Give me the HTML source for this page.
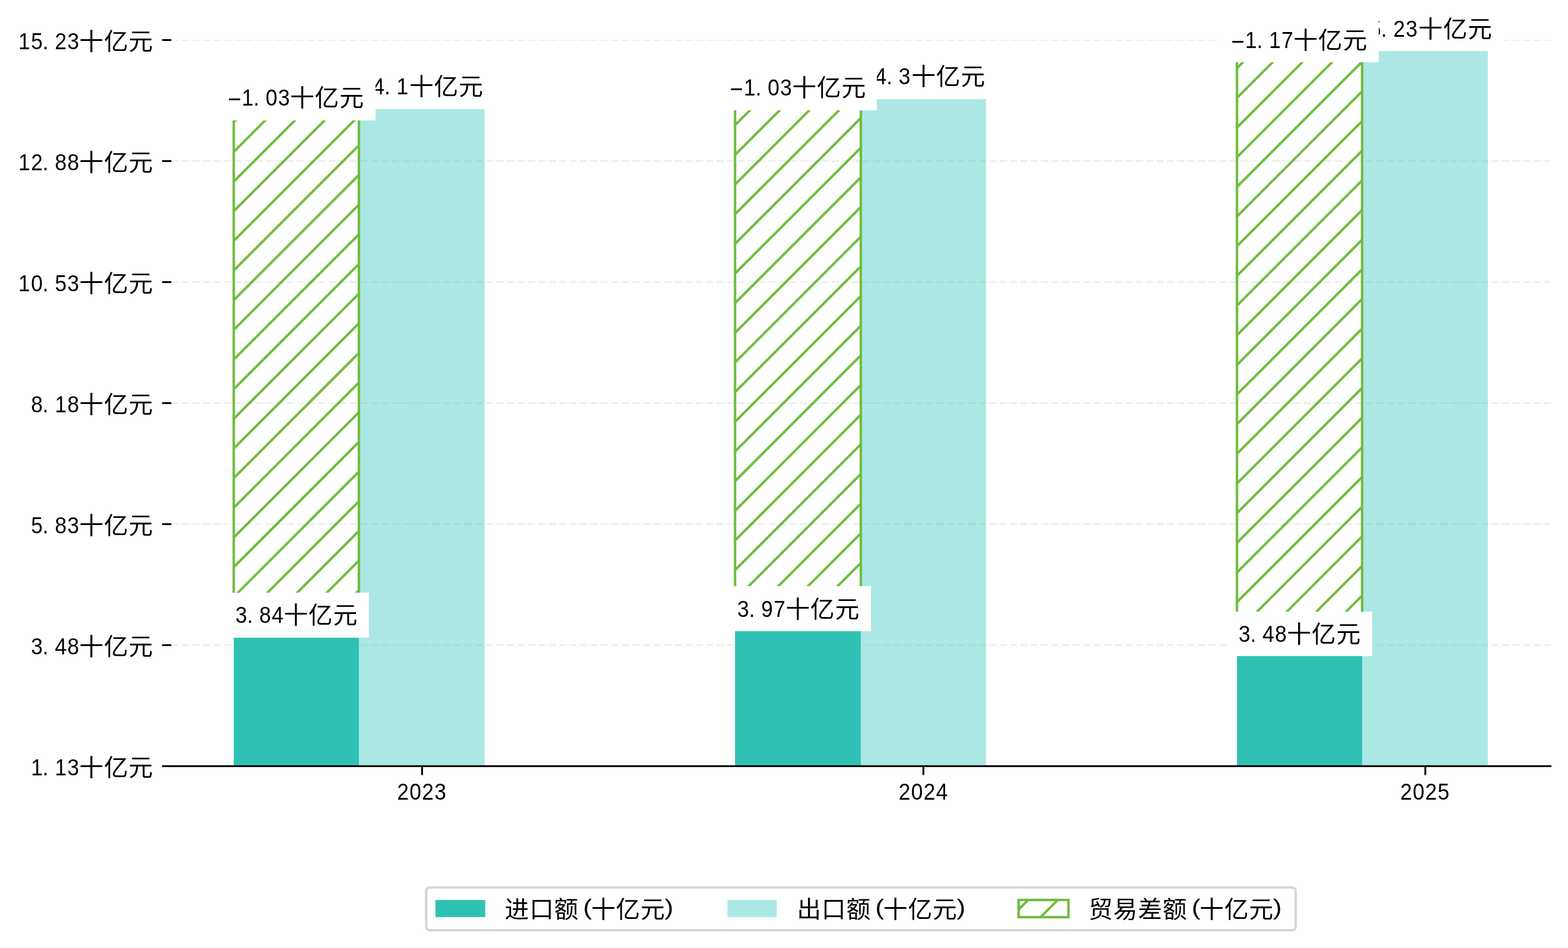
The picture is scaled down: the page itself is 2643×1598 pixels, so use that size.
<!DOCTYPE html>
<html lang="zh-CN"><head><meta charset="utf-8">
<style>
html,body{margin:0;padding:0;background:#fff;}
body{width:2643px;height:1598px;}
svg{display:block;}
text{font-family:"Liberation Sans", "Noto Sans CJK SC", sans-serif;fill:#000;text-anchor:middle;}
.d{font-size:39.0px;}
.c{font-size:39.7px;}
</style></head><body>
<svg width="2643" height="1598" viewBox="0 0 2643 1598">
<defs><clipPath id="h0"><rect x="394" y="203" width="211.0" height="796.0"/></clipPath><clipPath id="h1"><rect x="1239" y="186" width="212.0" height="802.0"/></clipPath><clipPath id="h2"><rect x="2085" y="105" width="211.0" height="926.0"/></clipPath><clipPath id="hl"><rect x="1717" y="1517" width="84.0" height="29.0"/></clipPath></defs>
<rect x="0" y="0" width="2643" height="1598" fill="#fff"/>
<rect x="605" y="184" width="211.9" height="1107.5" fill="#abe8e3"/>
<rect x="394" y="1075" width="211.0" height="216.5" fill="#2fc2b4"/>
<path d="M389.0 111.0L610.0 -110.0M389.0 161.0L610.0 -60.0M389.0 211.0L610.0 -10.0M389.0 261.0L610.0 40.0M389.0 311.0L610.0 90.0M389.0 361.0L610.0 140.0M389.0 411.0L610.0 190.0M389.0 461.0L610.0 240.0M389.0 511.0L610.0 290.0M389.0 561.0L610.0 340.0M389.0 611.0L610.0 390.0M389.0 661.0L610.0 440.0M389.0 711.0L610.0 490.0M389.0 761.0L610.0 540.0M389.0 811.0L610.0 590.0M389.0 861.0L610.0 640.0M389.0 911.0L610.0 690.0M389.0 961.0L610.0 740.0M389.0 1011.0L610.0 790.0M389.0 1061.0L610.0 840.0M389.0 1111.0L610.0 890.0M389.0 1161.0L610.0 940.0M389.0 1211.0L610.0 990.0M389.0 1261.0L610.0 1040.0M389.0 1311.0L610.0 1090.0" clip-path="url(#h0)" fill="none" stroke="#70bd3e" stroke-width="4.17"/>
<rect x="391.92" y="203" width="4.17" height="796.0" fill="#70bd3e"/>
<rect x="602.92" y="203" width="4.17" height="796.0" fill="#70bd3e"/>
<rect x="1451" y="167" width="210.9" height="1124.5" fill="#abe8e3"/>
<rect x="1239" y="1064" width="212.0" height="227.5" fill="#2fc2b4"/>
<path d="M1234.0 116.0L1456.0 -106.0M1234.0 166.0L1456.0 -56.0M1234.0 216.0L1456.0 -6.0M1234.0 266.0L1456.0 44.0M1234.0 316.0L1456.0 94.0M1234.0 366.0L1456.0 144.0M1234.0 416.0L1456.0 194.0M1234.0 466.0L1456.0 244.0M1234.0 516.0L1456.0 294.0M1234.0 566.0L1456.0 344.0M1234.0 616.0L1456.0 394.0M1234.0 666.0L1456.0 444.0M1234.0 716.0L1456.0 494.0M1234.0 766.0L1456.0 544.0M1234.0 816.0L1456.0 594.0M1234.0 866.0L1456.0 644.0M1234.0 916.0L1456.0 694.0M1234.0 966.0L1456.0 744.0M1234.0 1016.0L1456.0 794.0M1234.0 1066.0L1456.0 844.0M1234.0 1116.0L1456.0 894.0M1234.0 1166.0L1456.0 944.0M1234.0 1216.0L1456.0 994.0M1234.0 1266.0L1456.0 1044.0" clip-path="url(#h1)" fill="none" stroke="#70bd3e" stroke-width="4.17"/>
<rect x="1236.92" y="186" width="4.17" height="802.0" fill="#70bd3e"/>
<rect x="1448.92" y="186" width="4.17" height="802.0" fill="#70bd3e"/>
<rect x="2296" y="86" width="211.9" height="1205.5" fill="#abe8e3"/>
<rect x="2085" y="1106" width="211.0" height="185.5" fill="#2fc2b4"/>
<path d="M2080.0 20.0L2301.0 -201.0M2080.0 70.0L2301.0 -151.0M2080.0 120.0L2301.0 -101.0M2080.0 170.0L2301.0 -51.0M2080.0 220.0L2301.0 -1.0M2080.0 270.0L2301.0 49.0M2080.0 320.0L2301.0 99.0M2080.0 370.0L2301.0 149.0M2080.0 420.0L2301.0 199.0M2080.0 470.0L2301.0 249.0M2080.0 520.0L2301.0 299.0M2080.0 570.0L2301.0 349.0M2080.0 620.0L2301.0 399.0M2080.0 670.0L2301.0 449.0M2080.0 720.0L2301.0 499.0M2080.0 770.0L2301.0 549.0M2080.0 820.0L2301.0 599.0M2080.0 870.0L2301.0 649.0M2080.0 920.0L2301.0 699.0M2080.0 970.0L2301.0 749.0M2080.0 1020.0L2301.0 799.0M2080.0 1070.0L2301.0 849.0M2080.0 1120.0L2301.0 899.0M2080.0 1170.0L2301.0 949.0M2080.0 1220.0L2301.0 999.0M2080.0 1270.0L2301.0 1049.0M2080.0 1320.0L2301.0 1099.0" clip-path="url(#h2)" fill="none" stroke="#70bd3e" stroke-width="4.17"/>
<rect x="2082.92" y="105" width="4.17" height="926.0" fill="#70bd3e"/>
<rect x="2293.92" y="105" width="4.17" height="926.0" fill="#70bd3e"/>
<line x1="289.5" y1="68" x2="2613" y2="68" stroke-width="2" stroke="#808080" stroke-opacity="0.125" stroke-dasharray="12.3333 5.3333" stroke-dashoffset="0.83"/>
<line x1="289.5" y1="271.5" x2="2613" y2="271.5" stroke-width="3.1" stroke="#808080" stroke-opacity="0.125" stroke-dasharray="12.3333 5.3333" stroke-dashoffset="0.83"/>
<line x1="289.5" y1="475.5" x2="2613" y2="475.5" stroke-width="3.1" stroke="#808080" stroke-opacity="0.125" stroke-dasharray="12.3333 5.3333" stroke-dashoffset="0.83"/>
<line x1="289.5" y1="679.5" x2="2613" y2="679.5" stroke-width="3.1" stroke="#808080" stroke-opacity="0.125" stroke-dasharray="12.3333 5.3333" stroke-dashoffset="0.83"/>
<line x1="289.5" y1="883.5" x2="2613" y2="883.5" stroke-width="3.1" stroke="#808080" stroke-opacity="0.125" stroke-dasharray="12.3333 5.3333" stroke-dashoffset="0.83"/>
<line x1="289.5" y1="1087.5" x2="2613" y2="1087.5" stroke-width="3.1" stroke="#808080" stroke-opacity="0.125" stroke-dasharray="12.3333 5.3333" stroke-dashoffset="0.83"/>
<rect x="377.0" y="999" width="245.0" height="76" fill="#fff"/>
<g><text class="d" transform="matrix(0.912 0 0 1 0 1049.75)" x="445.85 462.08 490.04 513.06" y="0">3.84</text><text class="c" transform="matrix(1.03 0 0 1 0 1051.15)" x="484.10 524.51 564.93" y="0">十亿元</text></g>
<rect x="588.5" y="108" width="245.0" height="76" fill="#fff"/>
<g><text class="d" transform="matrix(0.912 0 0 1 0 158.75)" x="676.66 699.68 715.91 743.87" y="0">14.1</text><text class="c" transform="matrix(1.03 0 0 1 0 160.15)" x="689.68 730.10 770.51" y="0">十亿元</text></g>
<rect x="366.0" y="127" width="267.0" height="76" fill="#fff"/>
<g><text class="d" transform="matrix(1.95 0 0 1 395.31 177.75)" x="0" y="0">-</text><text class="d" transform="matrix(0.912 0 0 1 0 177.75)" x="457.69 473.92 501.88 524.90" y="0">1.03</text><text class="c" transform="matrix(1.03 0 0 1 0 179.15)" x="494.59 535.00 575.41" y="0">十亿元</text></g>
<rect x="1223.0" y="988" width="245.0" height="76" fill="#fff"/>
<g><text class="d" transform="matrix(0.912 0 0 1 0 1039.75)" x="1373.48 1389.71 1417.67 1440.69" y="0">3.97</text><text class="c" transform="matrix(1.03 0 0 1 0 1041.15)" x="1305.46 1345.87 1386.29" y="0">十亿元</text></g>
<rect x="1434.0" y="91" width="245.0" height="76" fill="#fff"/>
<g><text class="d" transform="matrix(0.912 0 0 1 0 141.75)" x="1604.51 1627.54 1643.76 1671.72" y="0">14.3</text><text class="c" transform="matrix(1.03 0 0 1 0 143.15)" x="1511.24 1551.65 1592.06" y="0">十亿元</text></g>
<rect x="1211.0" y="110" width="267.0" height="76" fill="#fff"/>
<g><text class="d" transform="matrix(1.95 0 0 1 1241.51 160.75)" x="0" y="0">-</text><text class="d" transform="matrix(0.912 0 0 1 0 160.75)" x="1385.54 1401.77 1429.73 1452.75" y="0">1.03</text><text class="c" transform="matrix(1.03 0 0 1 0 162.15)" x="1316.14 1356.55 1396.97" y="0">十亿元</text></g>
<rect x="2068.0" y="1031" width="245.0" height="75" fill="#fff"/>
<g><text class="d" transform="matrix(0.912 0 0 1 0 1081.75)" x="2300.01 2316.24 2344.20 2367.23" y="0">3.48</text><text class="c" transform="matrix(1.03 0 0 1 0 1083.15)" x="2125.85 2166.26 2206.67" y="0">十亿元</text></g>
<rect x="2268.4" y="10" width="267.0" height="76" fill="#fff"/>
<g><text class="d" transform="matrix(0.912 0 0 1 0 61.75)" x="2518.65 2541.68 2557.91 2585.87 2608.90" y="0">15.23</text><text class="c" transform="matrix(1.03 0 0 1 0 63.15)" x="2341.04 2381.46 2421.87" y="0">十亿元</text></g>
<rect x="2057.0" y="29" width="267.0" height="76" fill="#fff"/>
<g><text class="d" transform="matrix(1.95 0 0 1 2086.51 80.75)" x="0" y="0">-</text><text class="d" transform="matrix(0.912 0 0 1 0 80.75)" x="2312.08 2328.30 2356.26 2379.29" y="0">1.17</text><text class="c" transform="matrix(1.03 0 0 1 0 82.15)" x="2136.53 2176.94 2217.35" y="0">十亿元</text></g>
<rect x="286.9" y="1289.95" width="2328.1" height="3.1" fill="#000"/>
<rect x="273.3" y="65.95" width="15.5" height="3.1" fill="#000"/>
<rect x="273.3" y="269.95" width="15.5" height="3.1" fill="#000"/>
<rect x="273.3" y="473.95" width="15.5" height="3.1" fill="#000"/>
<rect x="273.3" y="677.95" width="15.5" height="3.1" fill="#000"/>
<rect x="273.3" y="881.95" width="15.5" height="3.1" fill="#000"/>
<rect x="273.3" y="1085.95" width="15.5" height="3.1" fill="#000"/>
<rect x="273.3" y="1289.95" width="15.5" height="3.1" fill="#000"/>
<rect x="709.95" y="1291.5" width="3.1" height="15" fill="#000"/>
<rect x="1554.95" y="1291.5" width="3.1" height="15" fill="#000"/>
<rect x="2400.95" y="1291.5" width="3.1" height="15" fill="#000"/>
<g><text class="d" transform="matrix(0.912 0 0 1 0 82.90)" x="44.98 68.01 84.24 112.20 135.22" y="0">15.23</text><text class="c" transform="matrix(1.03 0 0 1 0 84.30)" x="149.55 189.96 230.38" y="0">十亿元</text></g>
<g><text class="d" transform="matrix(0.912 0 0 1 0 286.90)" x="44.98 68.01 84.24 112.20 135.22" y="0">12.88</text><text class="c" transform="matrix(1.03 0 0 1 0 288.30)" x="149.55 189.96 230.38" y="0">十亿元</text></g>
<g><text class="d" transform="matrix(0.912 0 0 1 0 490.90)" x="44.98 68.01 84.24 112.20 135.22" y="0">10.53</text><text class="c" transform="matrix(1.03 0 0 1 0 492.30)" x="149.55 189.96 230.38" y="0">十亿元</text></g>
<g><text class="d" transform="matrix(0.912 0 0 1 0 694.90)" x="68.01 84.24 112.20 135.22" y="0">8.18</text><text class="c" transform="matrix(1.03 0 0 1 0 696.30)" x="149.55 189.96 230.38" y="0">十亿元</text></g>
<g><text class="d" transform="matrix(0.912 0 0 1 0 898.90)" x="68.01 84.24 112.20 135.22" y="0">5.83</text><text class="c" transform="matrix(1.03 0 0 1 0 900.30)" x="149.55 189.96 230.38" y="0">十亿元</text></g>
<g><text class="d" transform="matrix(0.912 0 0 1 0 1102.90)" x="68.01 84.24 112.20 135.22" y="0">3.48</text><text class="c" transform="matrix(1.03 0 0 1 0 1104.30)" x="149.55 189.96 230.38" y="0">十亿元</text></g>
<g><text class="d" transform="matrix(0.912 0 0 1 0 1306.90)" x="68.01 84.24 112.20 135.22" y="0">1.13</text><text class="c" transform="matrix(1.03 0 0 1 0 1308.30)" x="149.55 189.96 230.38" y="0">十亿元</text></g>
<g><text class="d" transform="matrix(0.912 0 0 1 0 1348.10)" x="744.74 767.76 790.79 813.82" y="0">2023</text></g>
<g><text class="d" transform="matrix(0.912 0 0 1 0 1348.10)" x="1671.82 1694.85 1717.87 1740.90" y="0">2024</text></g>
<g><text class="d" transform="matrix(0.912 0 0 1 0 1348.10)" x="2598.90 2621.93 2644.96 2667.98" y="0">2025</text></g>
<rect x="718.3" y="1496" width="1465.7" height="72" rx="6.2" ry="6.2" fill="#fff" stroke="#d6d6d6" stroke-width="4.17"/>
<rect x="734" y="1517" width="83.9" height="28.9" fill="#2fc2b4"/>
<rect x="1226.1" y="1517" width="83.2" height="28.9" fill="#abe8e3"/>
<path d="M1712.0 1438.0L1806.0 1344.0M1712.0 1488.0L1806.0 1394.0M1712.0 1538.0L1806.0 1444.0M1712.0 1588.0L1806.0 1494.0M1712.0 1638.0L1806.0 1544.0M1712.0 1688.0L1806.0 1594.0" clip-path="url(#hl)" fill="none" stroke="#70bd3e" stroke-width="4.17"/>
<rect x="1717" y="1517" width="84" height="29" fill="none" stroke="#70bd3e" stroke-width="4.17"/>
<g><text class="c" transform="matrix(1.03 0 0 1 0 1546.50)" x="845.84 886.25 926.66" y="0">进口额</text><text class="d" transform="matrix(1.15 0 0 0.966 990.24 1542.30)" x="0" y="0">(</text><text class="c" transform="matrix(1.03 0 0 1 0 1546.50)" x="987.30 1027.71 1068.12" y="0">十亿元</text><text class="d" transform="matrix(1.15 0 0 0.966 1127.64 1542.30)" x="0" y="0">)</text></g>
<g><text class="c" transform="matrix(1.03 0 0 1 0 1546.50)" x="1323.90 1364.31 1404.72" y="0">出口额</text><text class="d" transform="matrix(1.15 0 0 0.966 1482.64 1542.30)" x="0" y="0">(</text><text class="c" transform="matrix(1.03 0 0 1 0 1546.50)" x="1465.36 1505.77 1546.18" y="0">十亿元</text><text class="d" transform="matrix(1.15 0 0 0.966 1620.04 1542.30)" x="0" y="0">)</text></g>
<g><text class="c" transform="matrix(1.03 0 0 1 0 1546.50)" x="1801.18 1841.59 1882.00 1922.42" y="0">贸易差额</text><text class="d" transform="matrix(1.15 0 0 0.966 2015.87 1542.30)" x="0" y="0">(</text><text class="c" transform="matrix(1.03 0 0 1 0 1546.50)" x="1983.05 2023.46 2063.88" y="0">十亿元</text><text class="d" transform="matrix(1.15 0 0 0.966 2153.27 1542.30)" x="0" y="0">)</text></g>
</svg></body></html>
